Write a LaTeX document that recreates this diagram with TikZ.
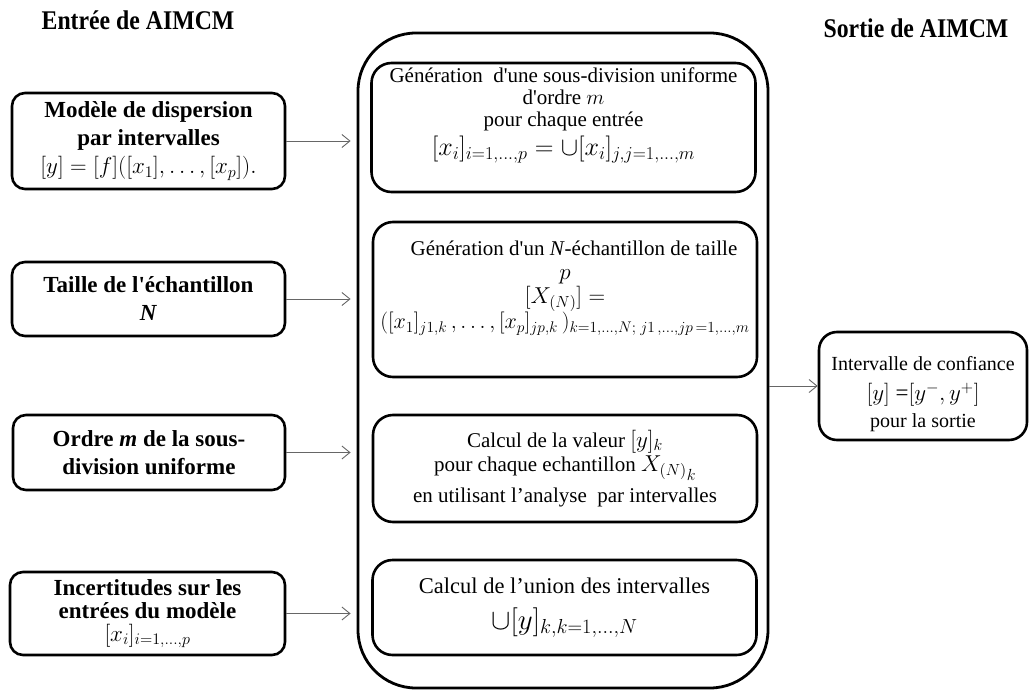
\RequirePackage{fix-cm}
\documentclass[tikz,border=0pt]{standalone}
\usepackage{graphicx}
\usepackage{fontspec}
\setmainfont{Liberation Serif}
\usetikzlibrary{arrows.meta}
\newcommand{\sq}{\textquotesingle}
\begin{document}
\begin{tikzpicture}[x=1pt,y=-1pt,
  inbox/.style={draw, line width=2.6pt, rounded corners=13pt, align=center,
    font=\fontsize{23}{28}\selectfont\bfseries, inner sep=0pt},
  stepbox/.style={draw, line width=2.6pt, rounded corners=20pt, align=center,
    inner sep=0pt, minimum width=384pt},
  frame/.style={draw, line width=2.8pt, rounded corners=58pt, inner sep=0pt},
  outbox/.style={draw, line width=2.6pt, rounded corners=18pt, align=center,
    font=\fontsize{20}{27}\selectfont, inner sep=0pt},
  flow/.style={draw=black!60, line width=0.9pt,
    -{Straight Barb[length=8pt,width=13pt]}},
  title/.style={font=\fontsize{27}{30}\selectfont\bfseries, inner sep=0pt}]

\useasboundingbox (0,0) rectangle (1030,690);

% headings
\node[title] (tin) at (138,20) {\scalebox{0.88}[1]{Entrée de AIMCM}};
\node[title] (tout) at (916,28) {\scalebox{0.88}[1]{Sortie\ de AIMCM}};

% inputs
\node[inbox, minimum width=273pt, minimum height=96pt] (mod) at (148.5,141)
  {Modèle de dispersion\\ par intervalles\\
   {\mdseries $[y]=[f]\big([x_1],\dots,[x_p]\big).$}};
\node[inbox, minimum width=273pt, minimum height=74pt] (size) at (148.5,299)
  {Taille de l\sq échantillon\\ \textit{N}};
\node[inbox, minimum width=272pt, minimum height=75pt] (ord) at (149,452.5)
  {Ordre \textit{m} de la sous-\\division uniforme};
\node[inbox, minimum width=275pt, minimum height=83pt,
      font=\fontsize{23}{23}\selectfont\bfseries] (unc) at (147.5,613.5)
  {Incertitudes sur les\\ entrées du modèle\\
   {\mdseries $[x_i]_{i=1,\dots,p}$}};

% AIMCM procedure
\node[frame, minimum width=410pt, minimum height=655pt] (core) at (563,360.5) {};

\node[stepbox, minimum height=129pt, font=\fontsize{21}{22}\selectfont]
  (sub) at (563.5,127.5)
  {Génération\ \ d\sq une sous-division uniforme\\ d\sq ordre $m$\\ pour chaque entrée\\[4pt]
   {\fontsize{26}{26}\selectfont$[x_i]_{i=1,\dots,p} = \cup[x_i]_{j,j=1,\dots,m}$}\\
   \rule{0pt}{24pt}};

\node[stepbox, minimum height=155pt, font=\fontsize{21}{24}\selectfont]
  (samp) at (565,299.5)
  {\hspace*{18pt}Génération d\sq un \textit{N}-échantillon de taille\\ {\fontsize{23}{24}\selectfont$p$}\\
   {\fontsize{23}{24}\selectfont$[X_{(N)}] =$}\\
   {\fontsize{22}{24}\selectfont$([x_1]_{j1,k}\,, \dots, [x_p]_{jp,k}\,)_{k=1,\dots,N;\; j1\,,\dots,jp\,=1,\dots,m}$}\\
   \rule{0pt}{22pt}};

\node[stepbox, minimum height=107pt, font=\fontsize{21}{24}\selectfont]
  (eval) at (565,468.5)
  {Calcul de la valeur {\fontsize{23}{24}\selectfont$[y]_k$}\\
   pour chaque echantillon {\fontsize{23}{24}\selectfont${X_{(N)}}_k$}\\[7pt]
   en utilisant l’analyse\ \ par intervalles};

\node[stepbox, minimum height=95pt, font=\fontsize{22.5}{36}\selectfont]
  (uni) at (564.5,607.5)
  {Calcul de l’union des intervalles\\
   {\fontsize{29}{29}\selectfont$\cup[y]_{k,k=1,\dots,N}$}};

% output
\node[outbox, minimum width=208pt, minimum height=108pt] (out) at (923,386)
  {\rule{0pt}{30pt}Intervalle de confiance\\[3pt]
   {\fontsize{23}{25}\selectfont$[y]$ =$[y^-, y^+]$}\\ pour la sortie};

% connectors
\draw[flow, shorten >=6pt] (mod) -- (mod -| core.west);
\draw[flow, shorten >=6pt] (size) -- (size -| core.west);
\draw[flow, shorten >=6pt] (ord) -- (ord -| core.west);
\draw[flow, shorten >=6pt] (unc) -- (unc -| core.west);
\draw[flow] (core.east |- out) -- (out);
\end{tikzpicture}
\end{document}
